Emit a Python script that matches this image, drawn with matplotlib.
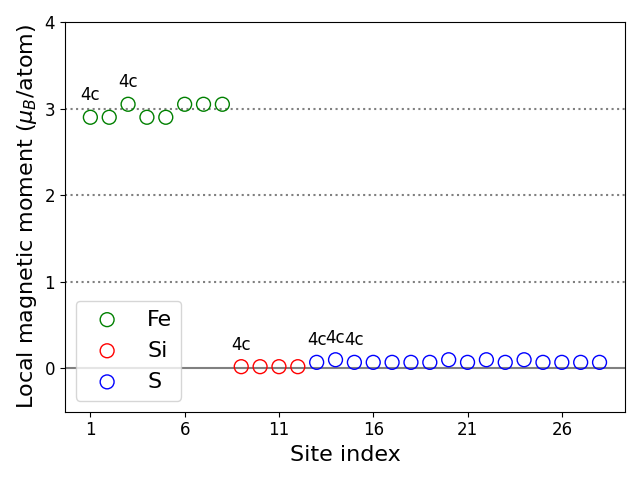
import matplotlib
matplotlib.use("Agg")
import matplotlib.pyplot as plt
import numpy as np

# site data
fe_sites = [1, 2, 3, 4, 5, 6, 7, 8]
fe_moments = [2.90, 2.90, 3.05, 2.90, 2.90, 3.05, 3.05, 3.05]
si_sites = [9, 10, 11, 12]
si_moments = [0.02, 0.02, 0.02, 0.02]
s_sites = list(range(13, 29))
s_moments = [0.07, 0.10, 0.07, 0.07, 0.07, 0.07, 0.07, 0.10,
             0.07, 0.10, 0.07, 0.10, 0.07, 0.07, 0.07, 0.07]

# sites labelled with Wyckoff position
label_sites = [1, 3, 9, 13, 14, 15]
label_text = ["4c", "4c", "4c", "4c", "4c", "4c"]

all_sites = fe_sites + si_sites + s_sites
all_moments = fe_moments + si_moments + s_moments

fig, ax = plt.subplots(figsize=(6.4, 4.8))

for yv in [1, 2, 3]:
    ax.axhline(yv, color="gray", linestyle=":", linewidth=1.5)
ax.axhline(0, color="gray", linestyle="-", linewidth=1.5)

ax.scatter(fe_sites, fe_moments, s=100, facecolors="none", edgecolors="green", label="Fe", zorder=3)
ax.scatter(si_sites, si_moments, s=100, facecolors="none", edgecolors="red", label="Si", zorder=3)
ax.scatter(s_sites, s_moments, s=100, facecolors="none", edgecolors="blue", label="S", zorder=3)

for site, txt in zip(label_sites, label_text):
    m = all_moments[all_sites.index(site)]
    ax.text(site, m + 0.15, txt, ha="center", va="bottom", fontsize=12)

ax.set_ylim(-0.5, 4)
ax.set_xticks(range(1, 29, 5))
ax.set_yticks([0, 1, 2, 3, 4])
ax.tick_params(labelsize=12)
ax.set_xlabel("Site index", fontsize=16)
ax.set_ylabel(r"Local magnetic moment ($\mu_B$/atom)", fontsize=16)
ax.legend(loc="lower left", fontsize=16)

plt.tight_layout()
fig.savefig("out.png", dpi=100)
